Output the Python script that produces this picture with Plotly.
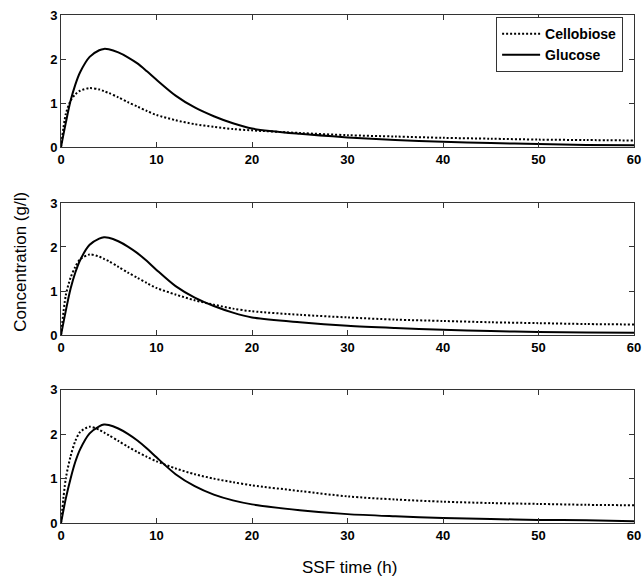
import plotly.graph_objects as go

# time points (h)
t = [0, 0.5, 1, 1.5, 2, 3, 4, 4.5, 5, 6, 7, 8, 9, 10, 12, 14, 16, 18, 20,
     25, 30, 35, 40, 45, 50, 55, 60]

# panel 1
glc_1 = [0, 0.55, 1.05, 1.42, 1.7, 2.05, 2.2, 2.23, 2.22, 2.15, 2.04, 1.9, 1.72,
         1.53, 1.17, 0.9, 0.7, 0.54, 0.42, 0.3, 0.22, 0.16, 0.12, 0.09, 0.07, 0.05, 0.04]
cel_1 = [0, 0.75, 1.05, 1.2, 1.28, 1.34, 1.31, 1.27, 1.23, 1.13, 1.02, 0.92, 0.82,
         0.73, 0.61, 0.52, 0.46, 0.41, 0.38, 0.32, 0.27, 0.24, 0.21, 0.19, 0.17, 0.16, 0.15]

# panel 2
glc_2 = [0, 0.55, 1.05, 1.42, 1.7, 2.05, 2.19, 2.22, 2.21, 2.13, 2.01, 1.86, 1.68,
         1.48, 1.11, 0.85, 0.66, 0.51, 0.4, 0.29, 0.21, 0.16, 0.12, 0.09, 0.07, 0.06, 0.05]
cel_2 = [0, 0.9, 1.3, 1.55, 1.72, 1.83, 1.78, 1.73, 1.68, 1.55, 1.42, 1.3, 1.18,
         1.07, 0.92, 0.79, 0.69, 0.6, 0.54, 0.46, 0.4, 0.35, 0.32, 0.29, 0.27, 0.25, 0.24]

# panel 3
glc_3 = [0, 0.55, 1.0, 1.38, 1.66, 2.02, 2.18, 2.22, 2.21, 2.13, 2.01, 1.86, 1.68,
         1.48, 1.1, 0.83, 0.64, 0.51, 0.42, 0.29, 0.2, 0.15, 0.11, 0.09, 0.07, 0.06, 0.04]
cel_3 = [0, 1.0, 1.5, 1.85, 2.05, 2.17, 2.1, 2.04, 1.98, 1.85, 1.72, 1.6, 1.49,
         1.39, 1.23, 1.1, 1.0, 0.92, 0.85, 0.72, 0.6, 0.53, 0.48, 0.45, 0.43, 0.41, 0.4]

panels = [(glc_1, cel_1), (glc_2, cel_2), (glc_3, cel_3)]
domains = [[0.740, 1.0], [0.370, 0.630], [0.0, 0.262]]

fig = go.Figure()

tick_font = dict(family="Liberation Sans Narrow, Liberation Sans", size=13,
                 color="black", weight="bold")

for i, (glc, cel) in enumerate(panels):
    n = "" if i == 0 else str(i + 1)
    fig.add_trace(go.Scatter(
        x=t, y=cel, mode="lines", name="Cellobiose",
        line=dict(color="black", width=2, dash="2px,2px", shape="spline", smoothing=0.8),
        xaxis="x" + n, yaxis="y" + n, showlegend=(i == 0),
    ))
    fig.add_trace(go.Scatter(
        x=t, y=glc, mode="lines", name="Glucose",
        line=dict(color="black", width=2, shape="spline", smoothing=0.8),
        xaxis="x" + n, yaxis="y" + n, showlegend=(i == 0),
    ))
    fig.update_layout(**{
        "xaxis" + n: dict(
            domain=[0, 1], anchor="y" + n, range=[0, 60], tickvals=[0, 10, 20, 30, 40, 50, 60],
            ticks="inside", ticklen=5, tickcolor="#333", showline=True, linecolor="#333",
            linewidth=1, mirror="ticks", showgrid=False, zeroline=False,
            tickfont=tick_font, automargin=False,
        ),
        "yaxis" + n: dict(
            domain=domains[i], anchor="x" + n, range=[0, 3], tickvals=[0, 1, 2, 3],
            ticks="inside", ticklen=5, tickcolor="#333", showline=True, linecolor="#333",
            linewidth=1, mirror="ticks", showgrid=False, zeroline=False,
            tickfont=tick_font, automargin=False,
        ),
    })

fig.add_annotation(text="Concentration (g/l)", xref="paper", yref="paper",
                   x=-0.071, y=0.515, xanchor="center", yanchor="middle",
                   textangle=-90, showarrow=False,
                   font=dict(family="Liberation Sans", size=17, color="black"))
fig.add_annotation(text="SSF time (h)", xref="paper", yref="paper",
                   x=0.504, y=-0.087, xanchor="center", yanchor="middle",
                   showarrow=False,
                   font=dict(family="Liberation Sans", size=17, color="black"))

fig.update_layout(
    width=642, height=581,
    margin=dict(l=61, r=8, t=15, b=58, autoexpand=False),
    paper_bgcolor="white", plot_bgcolor="white",
    legend=dict(x=0.981, y=0.996, xanchor="right", yanchor="top",
                bordercolor="#333", borderwidth=1, bgcolor="white",
                font=dict(family="Liberation Sans", size=14, color="black", weight="bold"),
                tracegroupgap=0, itemwidth=38),
)

# drop the page's default body margin so the figure sits at the window corner
fig.write_html("out.html", config={"displayModeBar": False},
               post_script="document.body.style.margin='0';")
